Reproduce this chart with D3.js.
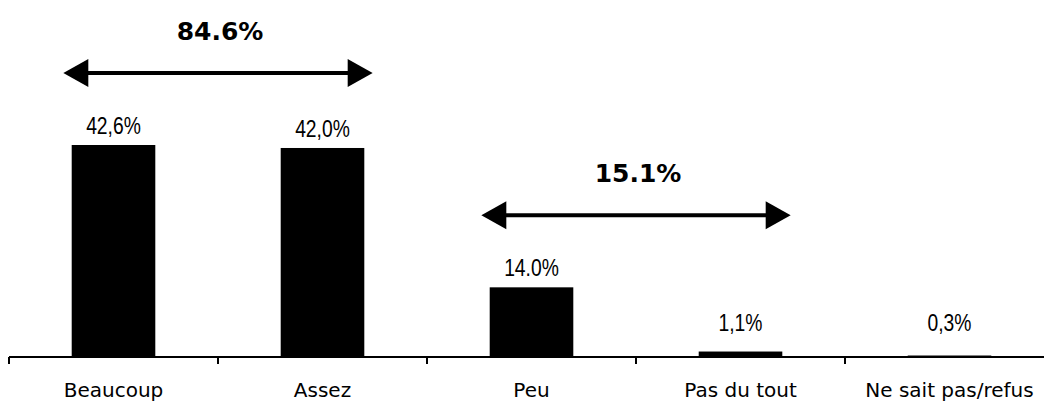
<!DOCTYPE html>
<meta charset="utf-8">
<style>
body { margin: 0; background: #fff; }
.axis .domain { display: none; }
.axis text {
  font: 20px "DejaVu Sans", Verdana, sans-serif;
  fill: #000;
}
.value {
  font: 23px "Liberation Sans", Arial, sans-serif;
  text-anchor: middle;
}
.total {
  font: bold 25px "DejaVu Sans", Verdana, sans-serif;
  text-anchor: middle;
}
</style>
<svg width="1044" height="408"></svg>
<script src="https://d3js.org/d3.v7.min.js"></script>
<script>

var categories = ["Beaucoup", "Assez", "Peu", "Pas du tout", "Ne sait pas/refus"];
var values = [42.6, 42.0, 14.0, 1.1, 0.3];
var valueLabels = ["42,6%", "42,0%", "14.0%", "1,1%", "0,3%"];

// grouped totals shown with double arrows
var groupFrom = ["Beaucoup", "Peu"];
var groupTo = ["Assez", "Pas du tout"];
var groupLabels = ["84.6%", "15.1%"];

var data = categories.map(function(c, i) {
  return {cat: c, value: values[i], label: valueLabels[i]};
});

var svg = d3.select("svg");

var x = d3.scaleBand()
    .domain(categories)
    .range([9, 1054]);

var y = d3.scaleLinear()
    .domain([0, 42.6])
    .range([357, 145]);

var bw = x.bandwidth(),
    barW = bw * 0.4;

// bars
svg.selectAll(".bar")
    .data(data)
  .enter().append("rect")
    .attr("class", "bar")
    .attr("x", function(d) { return x(d.cat) + (bw - barW) / 2; })
    .attr("width", barW)
    .attr("y", function(d) { return y(d.value); })
    .attr("height", function(d) { return y(0) - y(d.value); })
    .attr("fill", "#000");

// value labels (narrow face: Arial squeezed horizontally)
svg.selectAll(".value")
    .data(data)
  .enter().append("text")
    .attr("class", "value")
    .attr("transform", function(d) {
      return "translate(" + (x(d.cat) + bw / 2) + "," + Math.min(y(d.value) - 11, 331) + ") scale(0.84,1)";
    })
    .text(function(d) { return d.label; });

// axis: baseline, ticks at band edges, labels centred
svg.append("line")
    .attr("x1", x.range()[0])
    .attr("x2", 1044)
    .attr("y1", y(0))
    .attr("y2", y(0))
    .attr("stroke", "#000")
    .attr("stroke-width", 2);

svg.selectAll(".edge")
    .data(categories)
  .enter().append("line")
    .attr("class", "edge")
    .attr("x1", function(d) { return x(d); })
    .attr("x2", function(d) { return x(d); })
    .attr("y1", y(0))
    .attr("y2", y(0) + 7)
    .attr("stroke", "#000")
    .attr("stroke-width", 2);

var axis = svg.append("g")
    .attr("class", "axis")
    .attr("transform", "translate(0," + y(0) + ")")
    .call(d3.axisBottom(x).tickSize(0).tickSizeOuter(0));

axis.selectAll("text")
    .attr("y", 40)
    .attr("dy", 0);

// double arrows with group totals
var groups = groupLabels.map(function(l, i) {
  var a = categories.indexOf(groupFrom[i]),
      b = categories.indexOf(groupTo[i]);
  return {
    from: groupFrom[i],
    to: groupTo[i],
    label: l,
    top: d3.max(values.slice(a, b + 1))
  };
});

var headL = 25, headH = 14;

var arrow = svg.selectAll(".arrow")
    .data(groups)
  .enter().append("g")
    .attr("class", "arrow");

arrow.each(function(d) {
  var g = d3.select(this),
      x1 = x(d.from) + bw / 2 - bw * 0.24,
      x2 = x(d.to) + bw / 2 + bw * 0.24,
      ay = y(d.top) - 72;

  g.append("line")
      .attr("x1", x1 + headL - 2)
      .attr("x2", x2 - headL + 2)
      .attr("y1", ay)
      .attr("y2", ay)
      .attr("stroke", "#000")
      .attr("stroke-width", 4);

  g.append("path")
      .attr("d", "M" + x1 + "," + ay + "L" + (x1 + headL) + "," + (ay - headH) + "L" + (x1 + headL) + "," + (ay + headH) + "Z");

  g.append("path")
      .attr("d", "M" + x2 + "," + ay + "L" + (x2 - headL) + "," + (ay - headH) + "L" + (x2 - headL) + "," + (ay + headH) + "Z");

  g.append("text")
      .attr("class", "total")
      .attr("x", (x1 + x2) / 2 + 2)
      .attr("y", ay - 33)
      .text(d.label);
});

</script>
